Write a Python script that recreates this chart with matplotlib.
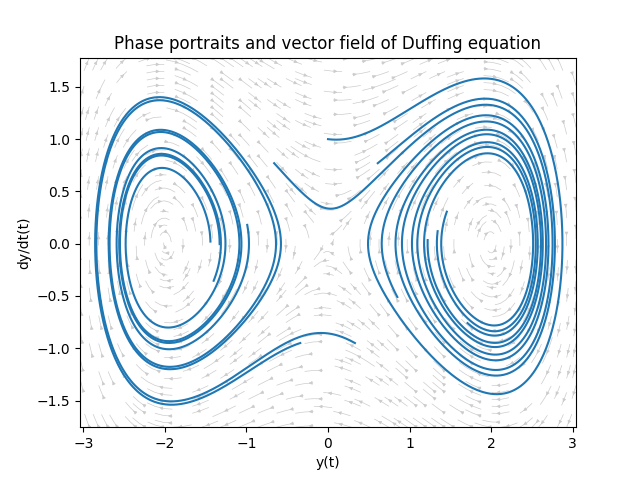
import numpy as np
import matplotlib
matplotlib.use('Agg')
import matplotlib.pyplot as plt

# Duffing: y'' + delta*y' + alpha*y + beta*y^3 = 0
alpha = -1.0
beta = 0.25
delta = 0.1

# start points (y, dy/dt)
y0_list = [0.0, -0.66, 0.61, -0.34, 0.33, -0.99, 0.85]
v0_list = [1.0, 0.77, 0.77, -0.95, -0.95, 0.18, -0.51]
# where each curve stops
y_end_list = [1.72, 1.16, 1.47, -1.42, -1.45, -1.45, 0.97]
v_end_list = [-0.75, 0.04, 0.30, -0.35, 0.0, 0.02, 0.16]

t_min, t_max = 8.0, 19.0
dt = 0.01


def rhs(s):
    y, v = s
    return np.array([v, -delta * v - alpha * y - beta * y**3])


def integrate(y0, v0):
    s = np.array([y0, v0])
    out = [s]
    for _ in range(int(t_max / dt)):
        k1 = rhs(s)
        k2 = rhs(s + 0.5 * dt * k1)
        k3 = rhs(s + 0.5 * dt * k2)
        k4 = rhs(s + dt * k3)
        s = s + dt / 6 * (k1 + 2 * k2 + 2 * k3 + k4)
        out.append(s)
    return np.array(out)


fig, ax = plt.subplots(figsize=(6.4, 4.8), dpi=100)

# vector field
Y, V = np.meshgrid(np.linspace(-3.04, 3.04, 40), np.linspace(-1.755, 1.78, 40))
dY = V
dV = -delta * V - alpha * Y - beta * Y**3
ax.streamplot(Y, V, dY, dV, density=1.8, color='#cccccc', linewidth=0.5,
              arrowsize=0.5, minlength=0.02, maxlength=0.1)

for y0, v0, ye, ve in zip(y0_list, v0_list, y_end_list, v_end_list):
    traj = integrate(y0, v0)
    i0 = int(t_min / dt)
    d = np.hypot((traj[i0:, 0] - ye) * 0.8, traj[i0:, 1] - ve)
    stop = i0 + int(np.argmin(d)) + 1
    ax.plot(traj[:stop, 0], traj[:stop, 1], color='#1f77b4', lw=1.5)

ax.set_xlim(-3.04, 3.04)
ax.set_ylim(-1.755, 1.78)
ax.set_xlabel('y(t)')
ax.set_ylabel('dy/dt(t)')
ax.set_title('Phase portraits and vector field of Duffing equation')

fig.savefig('out.png')
